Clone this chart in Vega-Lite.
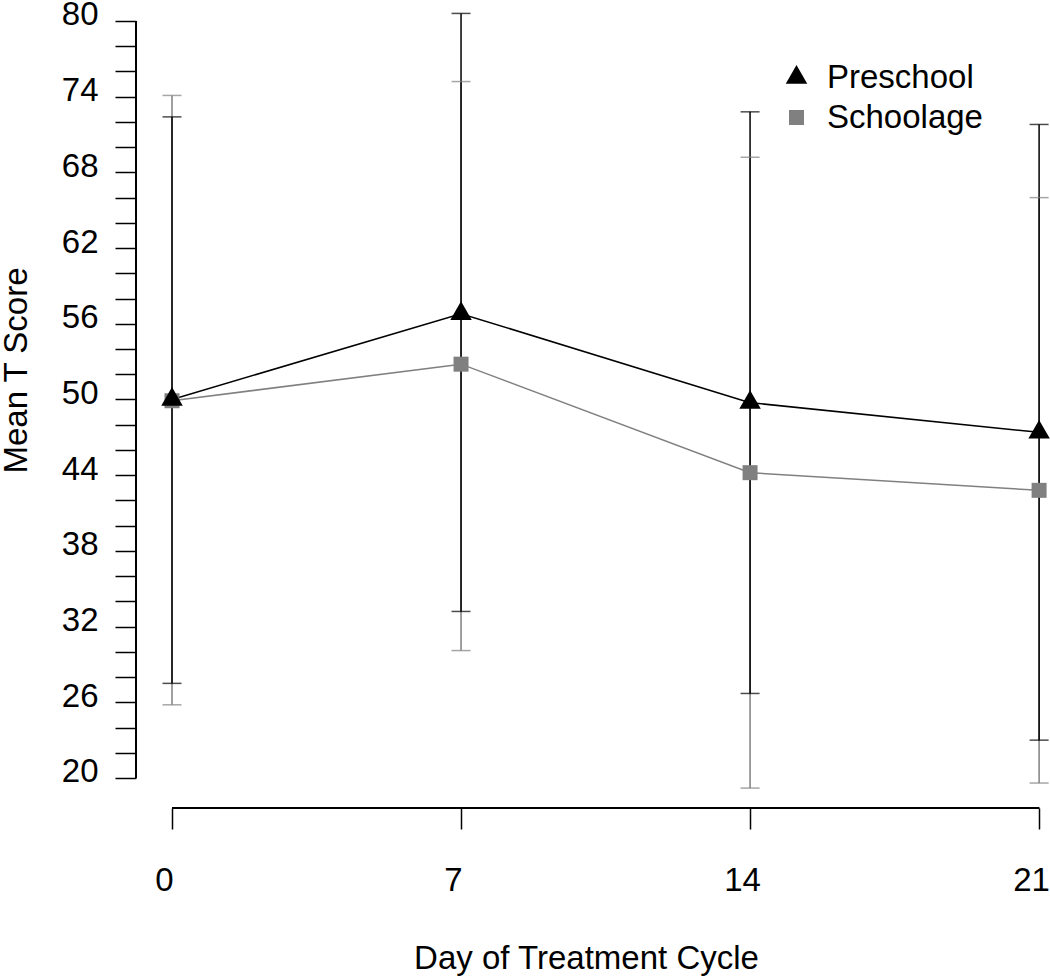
{
  "$schema": "https://vega.github.io/schema/vega-lite/v6.json",
  "autosize": {"type": "none"},
  "padding": {"left": 136, "top": 0, "right": 0, "bottom": 169},
  "width": 914,
  "height": 808,
  "background": "white",
  "config": {
    "view": {"stroke": null},
    "font": "Liberation Sans",
    "axis": {"grid": false, "domain": false, "tickColor": "black", "tickWidth": 1.5, "labelColor": "black", "titleColor": "black", "labelFont": "Liberation Sans", "titleFont": "Liberation Sans", "labelFontSize": 33, "titleFontSize": 33, "titleFontWeight": "normal"}
  },
  "data": {"values": [
    {"day": 0, "group": "Schoolage", "mean": 49.9, "lo": 25.8, "hi": 74.1},
    {"day": 7, "group": "Schoolage", "mean": 52.8, "lo": 30.1, "hi": 75.2},
    {"day": 14, "group": "Schoolage", "mean": 44.2, "lo": 19.2, "hi": 69.2},
    {"day": 21, "group": "Schoolage", "mean": 42.8, "lo": 19.6, "hi": 66.0},
    {"day": 0, "group": "Preschool", "mean": 50.0, "lo": 27.5, "hi": 72.4},
    {"day": 7, "group": "Preschool", "mean": 56.8, "lo": 33.2, "hi": 80.6},
    {"day": 14, "group": "Preschool", "mean": 49.75, "lo": 26.7, "hi": 72.8},
    {"day": 21, "group": "Preschool", "mean": 47.4, "lo": 23.0, "hi": 71.8}
  ]},
  "layer": [
    {
      "mark": {"type": "rule", "strokeWidth": 1.5},
      "encoding": {
        "x": {"field": "day", "type": "quantitative",
          "scale": {"domain": [-0.872, 21.264], "nice": false, "zero": false},
          "axis": {"values": [0, 7, 14, 21], "tickCount": 40, "format": "d", "tickSize": 21, "labelPadding": 35, "labelOffset": -8, "labelBaseline": "top", "labelFlush": false, "labelOverlap": false,
            "title": "Day of Treatment Cycle", "titleX": 450, "titleY": 160, "titleBaseline": "alphabetic", "titleAlign": "center", "titleAnchor": null}},
        "y": {"field": "lo", "type": "quantitative",
          "scale": {"domain": [17.622, 81.664], "nice": false, "zero": false},
          "axis": {"values": [20,22,24,26,28,30,32,34,36,38,40,42,44,46,48,50,52,54,56,58,60,62,64,66,68,70,72,74,76,78,80], "tickCount": 100, "format": "d",
            "tickSize": 21, "labelPadding": 17, "labelOffset": -6, "labelBaseline": "middle", "labelAlign": "right", "labelOverlap": false, "labelFlush": false,
            "labelExpr": "(datum.value - 20) % 6 === 0 ? datum.label : ''",
            "title": "Mean T Score", "titleX": -110, "titleY": 370, "titleAngle": 270, "titleBaseline": "alphabetic", "titleAlign": "center", "titleAnchor": null}},
        "y2": {"field": "hi"},
        "stroke": {"field": "group", "type": "nominal", "scale": {"range": ["#000000", "#808080"]}, "legend": null}
      }
    },
    {
      "mark": {"type": "tick", "orient": "horizontal", "size": 19, "thickness": 1.5},
      "encoding": {
        "x": {"field": "day", "type": "quantitative"},
        "y": {"field": "lo", "type": "quantitative"},
        "fill": {"field": "group", "type": "nominal", "scale": {"range": ["#000000", "#808080"]}, "legend": null}
      }
    },
    {
      "mark": {"type": "tick", "orient": "horizontal", "size": 19, "thickness": 1.5},
      "encoding": {
        "x": {"field": "day", "type": "quantitative"},
        "y": {"field": "hi", "type": "quantitative"},
        "fill": {"field": "group", "type": "nominal", "legend": null}
      }
    },
    {
      "mark": {"type": "line", "strokeWidth": 1.5},
      "encoding": {
        "x": {"field": "day", "type": "quantitative"},
        "y": {"field": "mean", "type": "quantitative"},
        "stroke": {"field": "group", "type": "nominal", "legend": null},
        "order": {"field": "day"}
      }
    },
    {
      "mark": {"type": "point", "filled": true, "opacity": 1, "strokeWidth": 0},
      "encoding": {
        "x": {"field": "day", "type": "quantitative"},
        "y": {"field": "mean", "type": "quantitative"},
        "color": {"field": "group", "type": "nominal", "scale": {"domain": ["Preschool", "Schoolage"], "range": ["#000000", "#808080"]},
          "legend": {"orient": "none", "legendX": 644, "legendY": 61, "title": null, "padding": 0, "labelFontSize": 33, "labelFont": "Liberation Sans", "labelColor": "black", "labelOffset": 14, "rowPadding": 6, "symbolStrokeWidth": 0, "symbolOpacity": 1}},
        "shape": {"field": "group", "type": "nominal", "scale": {"domain": ["Preschool", "Schoolage"], "range": ["M0,-1.155L1,0.577L-1,0.577Z", "square"]}},
        "size": {"field": "group", "type": "nominal", "scale": {"domain": ["Preschool", "Schoolage"], "range": [462, 225]}}
      }
    },
    {
      "mark": {"type": "rule", "strokeWidth": 1.5, "color": "black"},
      "encoding": {
        "x": {"datum": -0.872, "type": "quantitative"},
        "y": {"datum": 20, "type": "quantitative"},
        "y2": {"datum": 80}
      }
    },
    {
      "mark": {"type": "rule", "strokeWidth": 1.5, "color": "black"},
      "encoding": {
        "x": {"datum": 0, "type": "quantitative"},
        "x2": {"datum": 21},
        "y": {"datum": 17.622, "type": "quantitative"}
      }
    }
  ]
}
